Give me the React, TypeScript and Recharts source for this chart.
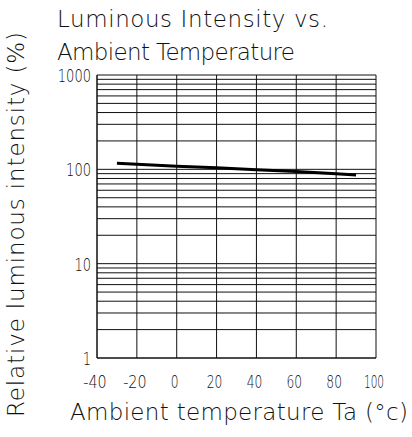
import React from 'react';
import { LineChart, Line, XAxis, YAxis, CartesianGrid } from 'recharts';

// temperature (°C) and relative luminous intensity (%)
const temps = [-30, -20, 0, 20, 40, 60, 80, 90];
const intensity = [116, 113, 108, 104, 99, 95, 90, 87];

const xTicks = [-40, -20, 0, 20, 40, 60, 80, 100];
const yTicks = [
  1, 2, 3, 4, 5, 6, 7, 8, 9,
  10, 20, 30, 40, 50, 60, 70, 80, 90,
  100, 200, 300, 400, 500, 600, 700, 800, 900,
  1000,
];
const yLabels = [1, 10, 100, 1000];

const data = temps.map((t, i) => ({ t, v: intensity[i] }));

const FONT = '"DejaVu Sans", sans-serif';
const INK = '#111';

const YTick = (props: any) => {
  const { x, y, payload } = props;
  if (!yLabels.includes(payload.value)) return null;
  const s = String(payload.value);
  return (
    <text
      x={x}
      y={y + 7}
      textAnchor="end"
      fontFamily={FONT}
      fontWeight={200}
      fontSize={17}
      fill={INK}
      textLength={s.length * 8.3}
      lengthAdjust="spacingAndGlyphs"
    >
      {s}
    </text>
  );
};

const XTick = (props: any) => {
  const { x, y, payload } = props;
  const s = String(payload.value);
  return (
    <text
      x={x - 2}
      y={y + 22}
      textAnchor="middle"
      fontFamily={FONT}
      fontWeight={200}
      fontSize={18}
      fill={INK}
      textLength={s.replace(/1/g, '').length * 7.8 + (s.match(/1/g) || []).length * 4.5}
      lengthAdjust="spacingAndGlyphs"
    >
      {s}
    </text>
  );
};

export default function App() {
  return (
    <div style={{ position: 'absolute', left: 0, top: 0, width: 412, height: 437, background: '#fff' }}>
      <LineChart
        width={412}
        height={437}
        data={data}
        margin={{ top: 75, right: 36, bottom: 0, left: 0 }}
      >
        <CartesianGrid stroke={INK} strokeWidth={1} />
        <XAxis
          type="number"
          dataKey="t"
          domain={[-40, 100]}
          ticks={xTicks}
          interval={0}
          height={79}
          tickLine={false}
          axisLine={{ stroke: INK }}
          tick={<XTick />}
        />
        <YAxis
          scale="log"
          domain={[1, 1000]}
          ticks={yTicks}
          interval={0}
          width={97}
          allowDataOverflow
          tickLine={false}
          tickSize={4}
          axisLine={{ stroke: INK }}
          tick={<YTick />}
        />
        <Line
          type="linear"
          dataKey="v"
          stroke="#000"
          strokeWidth={3}
          dot={false}
          isAnimationActive={false}
        />
      </LineChart>
      <svg
        width={412}
        height={437}
        style={{ position: 'absolute', left: 0, top: 0, pointerEvents: 'none' }}
      >
        <g fontFamily={FONT} fontWeight={200} fill={INK}>
          <text x={57} y={27} fontSize={23} textLength={271} lengthAdjust="spacing">
            Luminous Intensity vs.
          </text>
          <text x={57} y={60} fontSize={23} textLength={238} lengthAdjust="spacing">
            Ambient Temperature
          </text>
          <text x={70} y={420} fontSize={23} textLength={338} lengthAdjust="spacing">
            Ambient temperature Ta (°c)
          </text>
          <text
            transform="translate(24,417) rotate(-90)"
            x={0}
            y={0}
            fontSize={23}
            textLength={385}
            lengthAdjust="spacing"
          >
            Relative luminous intensity (%)
          </text>
        </g>
      </svg>
    </div>
  );
}
